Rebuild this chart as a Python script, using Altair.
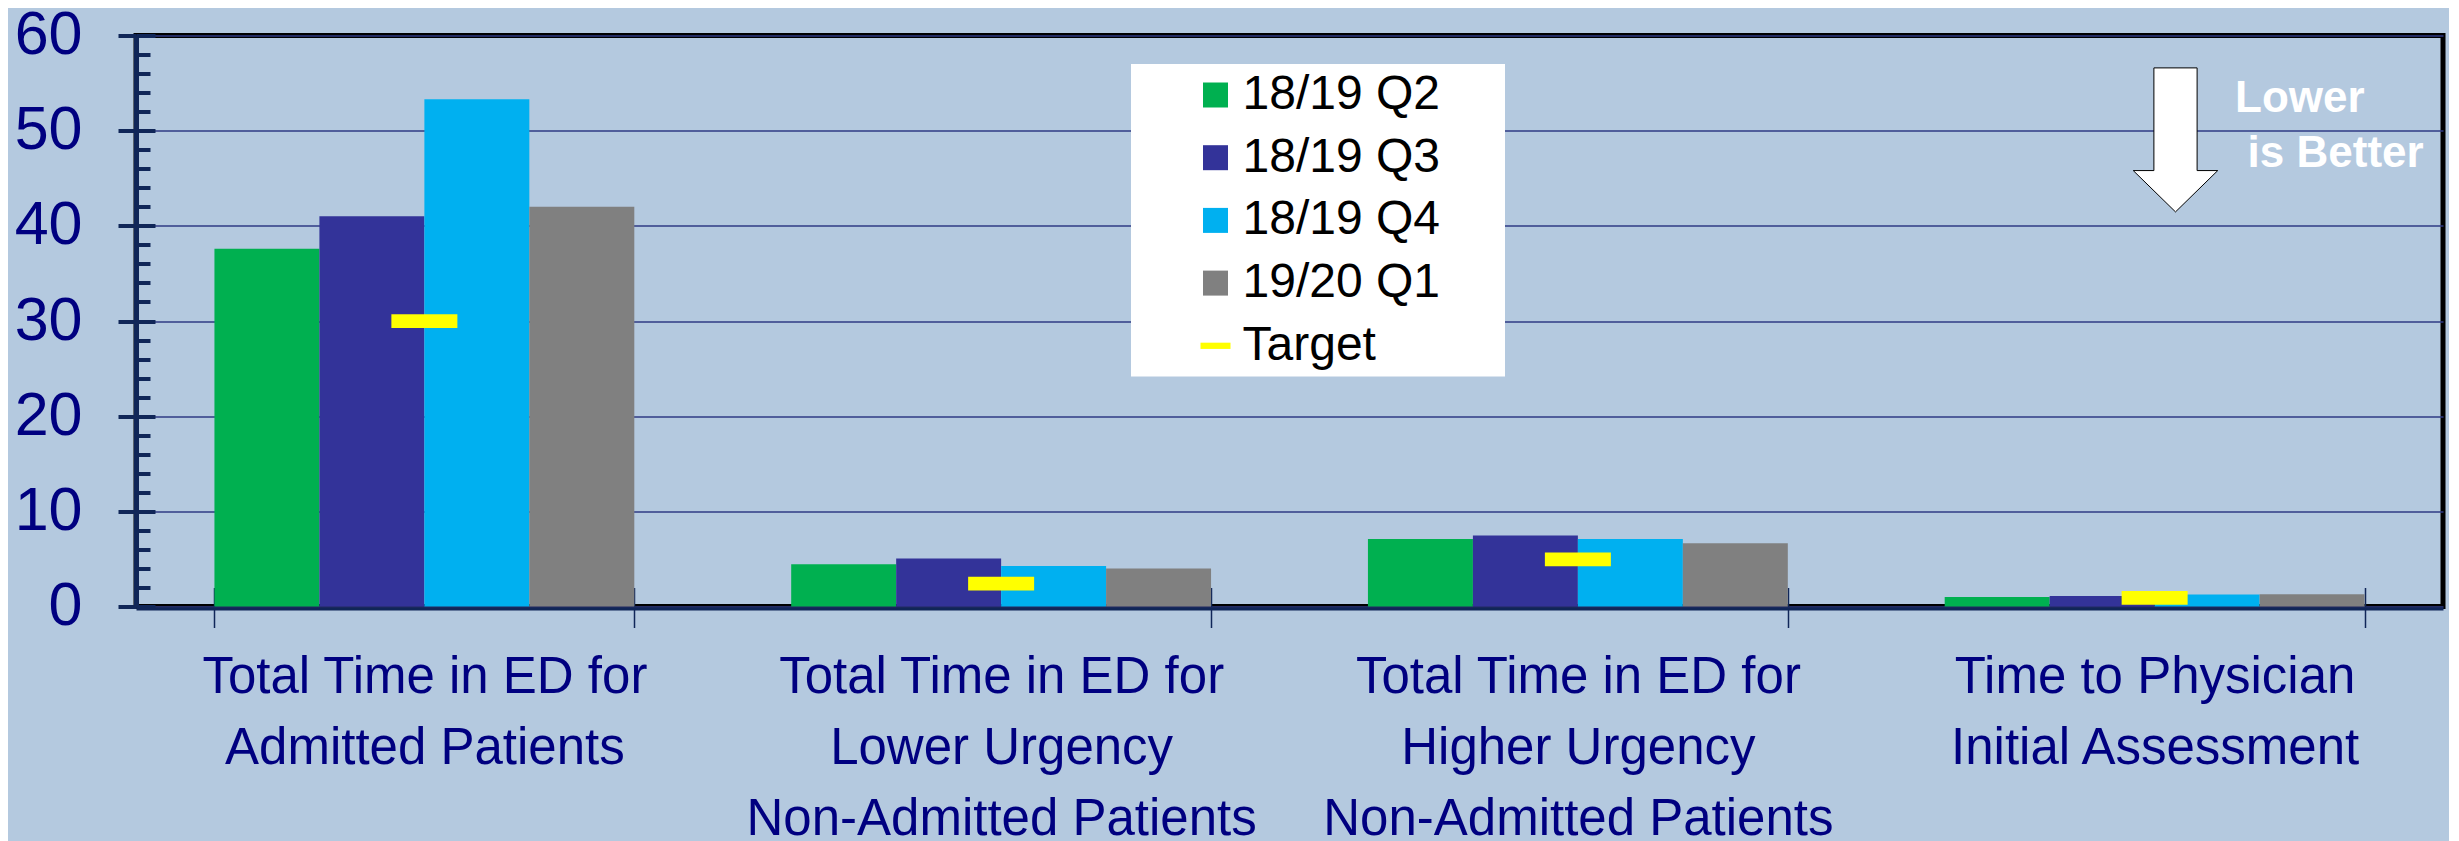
import altair as alt
import pandas as pd

# ---------------- data ----------------
categories = [
    "Total Time in ED for|Admitted Patients",
    "Total Time in ED for|Lower Urgency|Non-Admitted Patients",
    "Total Time in ED for|Higher Urgency|Non-Admitted Patients",
    "Time to Physician|Initial Assessment",
]
series = ["18/19 Q2", "18/19 Q3", "18/19 Q4", "19/20 Q1"]
q2_1819 = [37.6, 4.45, 7.1, 1.0]
q3_1819 = [41.0, 5.05, 7.45, 1.1]
q4_1819 = [53.3, 4.25, 7.1, 1.25]
q1_1920 = [42.0, 4.0, 6.65, 1.3]
target = [30.0, 2.4, 4.95, 0.9]
target_label = "Target"

y_major = [0, 10, 20, 30, 40, 50, 60]
y_minor = [0, 2, 4, 6, 8, 10, 12, 14, 16, 18, 20, 22, 24, 26, 28, 30,
           32, 34, 36, 38, 40, 42, 44, 46, 48, 50, 52, 54, 56, 58, 60]

note_lines = ["Lower", "is Better"]

# ---------------- styles ----------------
BG = "#B4C9DF"
NAVY = "#000080"
AXIS_NAVY = "#102658"
GRID = "#2F3A84"
colors = ["#00B050", "#333399", "#00B0F0", "#808080", "#FFFF00"]
target_path = "M -1.2 -0.25 L 1.2 -0.25 L 1.2 0.25 L -1.2 0.25 Z"
shapes = ["square", "square", "square", "square", target_path]
arrow_path = "M -0.3 -1 L 0.3 -1 L 0.3 0.426 L 0.587 0.426 L 0 1 L -0.587 0.426 L -0.3 0.426 Z"

W = 2307
H = 571
legend_domain = series + [target_label]

rows = []
for s, vals in zip(series, [q2_1819, q3_1819, q4_1819, q1_1920]):
    for c, v in zip(categories, vals):
        rows.append({"category": c, "series": s, "value": v})
df_bars = pd.DataFrame(rows)
df_target = pd.DataFrame({"category": categories,
                          "series": [target_label] * len(categories),
                          "target": target})

x_scale = alt.Scale(domain=categories, paddingInner=0.272, paddingOuter=0.136)
y_scale = alt.Scale(domain=[0, 60], nice=False, zero=True)
color_scale = alt.Scale(domain=legend_domain, range=colors)
shape_scale = alt.Scale(domain=legend_domain, range=shapes)

legend_kw = dict(
    title=None, orient="none", legendX=1055.5, legendY=35.5, direction="vertical",
    labelFont="Liberation Sans", labelFontSize=48, labelColor="black",
    symbolSize=625, symbolStrokeWidth=0, symbolOpacity=1, labelOffset=3,
    rowPadding=14.7, padding=0, labelLimit=400,
)

# white legend box
legend_box = alt.Chart().mark_rect(color="white").encode(
    x=alt.value(995), x2=alt.value(1369), y=alt.value(28.5), y2=alt.value(341)
)

bars = alt.Chart(df_bars).mark_bar().encode(
    x=alt.X("category:N", scale=x_scale, sort=categories,
            axis=alt.Axis(title=None, orient="bottom", labelAngle=0,
                          labelExpr="split(datum.label, '|')",
                          labelFont="Liberation Sans",
                          labelFontSize=51, labelColor=NAVY, labelLineHeight=71,
                          labelLimit=1000, labelOverlap=False, labelPadding=25,
                          tickBand="extent", tickSize=19, tickWidth=1.5,
                          tickColor=AXIS_NAVY, domainColor=AXIS_NAVY,
                          domainWidth=3, offset=2, grid=False)),
    xOffset=alt.XOffset("series:N", sort=series,
                        scale=alt.Scale(domain=series, paddingInner=0, paddingOuter=0)),
    y=alt.Y("value:Q", scale=y_scale,
            axis=alt.Axis(title=None, orient="left", values=y_major,
                          labelFont="Liberation Sans", labelFontSize=61,
                          labelColor=NAVY, labelPadding=36,
                          tickSize=18, tickWidth=4, tickColor=AXIS_NAVY,
                          domainColor=AXIS_NAVY, domainWidth=5,
                          grid=True, gridColor=GRID, gridWidth=1.5)),
    color=alt.Color("series:N", scale=color_scale, legend=alt.Legend(**legend_kw)),
)

targets = alt.Chart(df_target).mark_point(
    filled=True, opacity=1, size=3025, strokeWidth=0
).encode(
    x=alt.X("category:N", scale=x_scale, sort=categories,
            axis=alt.Axis(title=None, orient="top", offset=-H, labels=False,
                          domain=False, grid=False, tickBand="extent",
                          tickSize=19, tickWidth=1.5, tickColor=AXIS_NAVY)),
    y=alt.Y("target:Q", scale=y_scale,
            axis=alt.Axis(title=None, orient="right", offset=-W, values=y_minor,
                          labels=False, domain=False, grid=False,
                          tickWidth=4, tickColor=AXIS_NAVY,
                          tickSize={"condition": {"test": "datum.value % 10 === 0", "value": 19},
                                    "value": 14})),
    color=alt.Color("series:N", scale=color_scale, legend=alt.Legend(**legend_kw)),
    shape=alt.Shape("series:N", scale=shape_scale, legend=alt.Legend(**legend_kw)),
)

arrow = alt.Chart().mark_point(
    shape=arrow_path, size=144 * 144, filled=True, fill="white",
    stroke="black", strokeWidth=1, opacity=1
).encode(x=alt.value(2039.5), y=alt.value(104.4))

note1 = alt.Chart().mark_text(
    font="Liberation Sans", fontWeight="bold", fontSize=44, color="white",
    align="left", baseline="alphabetic"
).encode(x=alt.value(2099), y=alt.value(76.5), text=alt.value(note_lines[0]))

note2 = alt.Chart().mark_text(
    font="Liberation Sans", fontWeight="bold", fontSize=44, color="white",
    align="left", baseline="alphabetic"
).encode(x=alt.value(2111.6), y=alt.value(131), text=alt.value(note_lines[1]))

chart = alt.layer(legend_box, bars, targets, arrow, note1, note2).resolve_axis(
    x="independent", y="independent"
).properties(
    width=W, height=H,
    autosize=alt.AutoSizeParams(type="none"),
    padding={"left": 128, "top": 27.5, "right": 6, "bottom": 236},
    background=BG,
).configure_view(stroke="black", strokeWidth=5)

chart.save("out.html", embed_options={"renderer": "svg", "actions": False})
